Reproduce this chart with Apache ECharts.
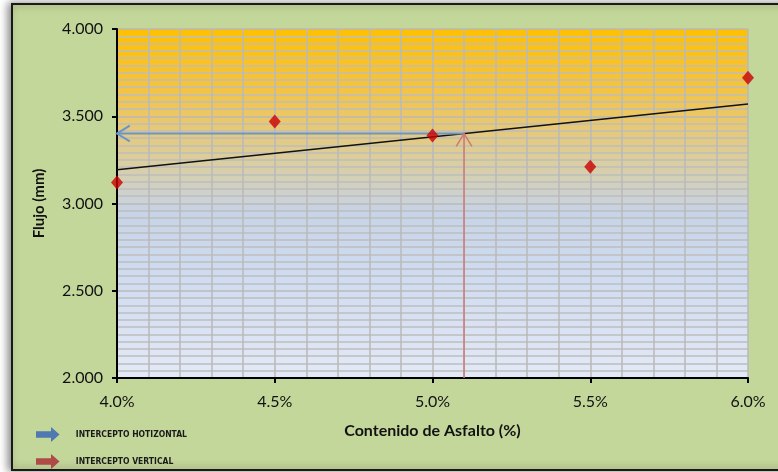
<!DOCTYPE html>
<html>
<head>
<meta charset="utf-8">
<script src="https://cdn.jsdelivr.net/npm/echarts@6/dist/echarts.min.js"></script>
<style>
  html, body { margin: 0; padding: 0; background: #ffffff; }
  #chart { width: 778px; height: 472px; }
</style>
</head>
<body>
<div id="chart"></div>
<script>
// Asphalt content (%) vs. flow (mm)
const asfalto = [4.0, 4.5, 5.0, 5.5, 6.0];
const flujo = [3.12, 3.47, 3.39, 3.21, 3.72];

// Axis ranges and steps
const xRange = [4.0, 6.0];
const yRange = [2.0, 4.0];
const xStep = 0.5;
const yStep = 0.5;

// Design asphalt content used for the intercepts (%)
const contenidoOptimo = 5.1;

const serieNames = ['INTERCEPTO HOTIZONTAL', 'INTERCEPTO VERTICAL'];

// Least-squares linear trend through the measured points
function linearFit(xs, ys) {
  const n = xs.length;
  const mx = xs.reduce((a, b) => a + b, 0) / n;
  const my = ys.reduce((a, b) => a + b, 0) / n;
  let sxy = 0, sxx = 0;
  for (let i = 0; i < n; i++) {
    sxy += (xs[i] - mx) * (ys[i] - my);
    sxx += (xs[i] - mx) * (xs[i] - mx);
  }
  const m = sxy / sxx;
  return x => my + m * (x - mx);
}
const trend = linearFit(asfalto, flujo);
const flujoOptimo = trend(contenidoOptimo);

const points = asfalto.map((x, i) => [x, flujo[i]]);
const trendData = xRange.map(x => [x, trend(x)]);

// Arrow drawn from [x1, y1] to [x2, y2] with an open head at the second point
function arrowRenderer(color, width) {
  return function (params, api) {
    const p1 = api.coord([api.value(0), api.value(1)]);
    const p2 = api.coord([api.value(2), api.value(3)]);
    const ang = Math.atan2(p2[1] - p1[1], p2[0] - p1[0]);
    const head = 15, spread = 0.55;
    const a = [p2[0] - head * Math.cos(ang - spread), p2[1] - head * Math.sin(ang - spread)];
    const b = [p2[0] - head * Math.cos(ang + spread), p2[1] - head * Math.sin(ang + spread)];
    const style = { stroke: color, lineWidth: width, fill: null };
    return {
      type: 'group',
      children: [
        { type: 'polyline', shape: { points: [p1, p2] }, style: style },
        { type: 'polyline', shape: { points: [a, p2, b] }, style: style }
      ]
    };
  };
}

const arrowIcon = 'path://M0,4 L14,4 L14,0 L22,7 L14,14 L14,10 L0,10 Z';

const chart = echarts.init(document.getElementById('chart'), null, { renderer: 'canvas' });

const baseFont = 'Lato, "Open Sans", sans-serif';
const legendText = {
  fontFamily: '"Liberation Sans Narrow", "DejaVu Sans Condensed", "Liberation Sans", sans-serif',
  fontSize: 8.5, fontWeight: 'bold', color: '#1a1a1a',
  padding: [0, 0, 0, 10]
};

chart.setOption({
  animation: false,
  backgroundColor: '#ffffff',
  graphic: [
    {
      type: 'rect',
      left: 11, top: 3,
      shape: { width: 790, height: 466 },
      style: {
        fill: '#c4d79b', stroke: '#1a1a1a', lineWidth: 2,
        shadowColor: 'rgba(0,0,0,0.45)', shadowBlur: 8, shadowOffsetX: -3, shadowOffsetY: 0
      },
      z: -10
    }
  ],
  grid: {
    left: 117, top: 29, right: 30, bottom: 94,
    show: true,
    borderWidth: 0,
    backgroundColor: {
      type: 'linear', x: 0, y: 0, x2: 0, y2: 1,
      colorStops: [
        { offset: 0.0, color: '#ffc000' },
        { offset: 0.12, color: '#f8c22c' },
        { offset: 0.26, color: '#eac76a' },
        { offset: 0.40, color: '#d8cfa8' },
        { offset: 0.52, color: '#c7d3e6' },
        { offset: 0.72, color: '#d0dcf1' },
        { offset: 1.0, color: '#e3e9f6' }
      ]
    }
  },
  legend: [
    {
      left: 31, top: 422,
      itemWidth: 26, itemHeight: 15,
      icon: arrowIcon,
      data: [serieNames[0]],
      textStyle: legendText
    },
    {
      left: 31, top: 449,
      itemWidth: 26, itemHeight: 15,
      icon: arrowIcon,
      data: [serieNames[1]],
      textStyle: legendText
    }
  ],
  xAxis: {
    type: 'value',
    min: xRange[0], max: xRange[1], interval: xStep,
    name: 'Contenido de Asfalto (%)',
    nameLocation: 'middle',
    nameGap: 45,
    nameTextStyle: { fontFamily: baseFont, fontSize: 16, fontWeight: 'bold', color: '#111' },
    axisLine: { show: true, onZero: false, lineStyle: { color: '#000', width: 2 } },
    axisTick: { show: true, length: 5, lineStyle: { color: '#000', width: 2 } },
    axisLabel: {
      margin: 16, fontFamily: baseFont, fontSize: 16, color: '#111',
      formatter: v => v.toFixed(1) + '%'
    },
    splitLine: { show: true, lineStyle: { color: '#b9b9b9', width: 1.5 } },
    minorTick: { show: false, splitNumber: 5 },
    minorSplitLine: { show: true, lineStyle: { color: '#b9b9b9', width: 1.5 } }
  },
  yAxis: {
    type: 'value',
    min: yRange[0], max: yRange[1], interval: yStep,
    name: 'Flujo (mm)',
    nameLocation: 'middle',
    nameRotate: 90,
    nameGap: 70,
    nameTextStyle: { fontFamily: baseFont, fontSize: 15, fontWeight: 'bold', color: '#111', padding: [0, 0, 0, 0] },
    axisLine: { show: true, onZero: false, lineStyle: { color: '#000', width: 2 } },
    axisTick: { show: true, length: 5, lineStyle: { color: '#000', width: 2 } },
    axisLabel: {
      margin: 14, fontFamily: baseFont, fontSize: 16, color: '#111',
      formatter: v => v.toFixed(3)
    },
    splitLine: { show: true, lineStyle: { color: '#b9b9b9', width: 1.5 } },
    minorTick: { show: false, splitNumber: 12 },
    minorSplitLine: { show: true, lineStyle: { color: '#bdbdbd', width: 1.5 } }
  },
  series: [
    {
      name: 'Tendencia',
      type: 'line',
      data: trendData,
      symbol: 'none',
      lineStyle: { color: '#111', width: 1.5 },
      z: 3
    },
    {
      name: serieNames[0],
      type: 'custom',
      renderItem: arrowRenderer('#6a95c8', 2),
      itemStyle: { color: '#4f79b0' },
      encode: { x: [0, 2], y: [1, 3] },
      data: [[contenidoOptimo, flujoOptimo, xRange[0], flujoOptimo]],
      z: 4
    },
    {
      name: serieNames[1],
      type: 'custom',
      renderItem: arrowRenderer('#d07878', 1.5),
      itemStyle: { color: '#b04a47' },
      encode: { x: [0, 2], y: [1, 3] },
      data: [[contenidoOptimo, yRange[0], contenidoOptimo, flujoOptimo]],
      z: 4
    },
    {
      name: 'Flujo',
      type: 'scatter',
      data: points,
      symbol: 'diamond',
      symbolSize: [12, 14],
      itemStyle: { color: '#cc0000' },
      z: 5
    }
  ]
});
</script>
</body>
</html>
